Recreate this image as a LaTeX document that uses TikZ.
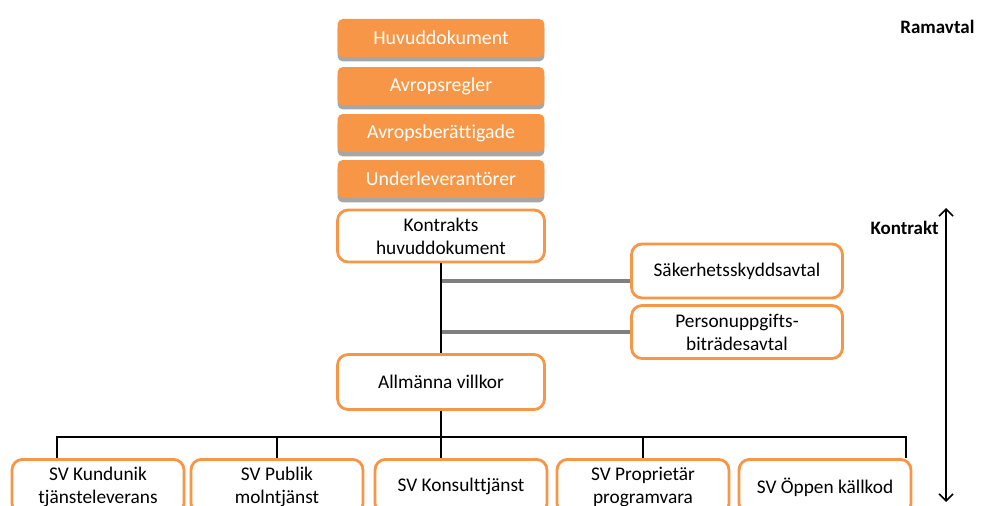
\documentclass[tikz,border=0pt]{standalone}
\usepackage{fontspec}
\setmainfont{Carlito}[Ligatures=NoCommon]
\usetikzlibrary{arrows.meta,shadows}
\definecolor{boxorange}{HTML}{F79646}
\definecolor{linegray}{HTML}{7F7F7F}
\begin{document}
\begin{tikzpicture}[x=0.02cm,y=-0.02cm]
	% Styles
	\tikzset{
		ramavtalbox/.style={fill=boxorange, rounded corners=3pt, text=white, minimum width=4.14cm, minimum height=0.76cm, inner sep=0pt, font=\fontsize{11.3}{13}\selectfont, drop shadow={shadow xshift=0pt, shadow yshift=-2.5pt, fill=black!35, opacity=1}},
		kontraktbox/.style={draw=boxorange, line width=1.6pt, fill=white, rounded corners=6pt, align=center, inner sep=0pt, font=\fontsize{11}{13}\selectfont},
		bilagabox/.style={kontraktbox, anchor=north, minimum width=3.44cm, minimum height=1.1cm},
		treeline/.style={black, line width=1pt},
		sideline/.style={linegray, line width=2pt}
	}
	\useasboundingbox (0,0) rectangle (982,506);
	\clip (0,0) rectangle (982,506);

	% Ramavtal parts
	\node [ramavtalbox] (huvud) at (441,38) {Huvuddokument};
	\node [ramavtalbox] (regler) at (441,86) {Avropsregler};
	\node [ramavtalbox] (beratt) at (441,133) {Avropsberättigade};
	\node [ramavtalbox] (underlev) at (441,179) {Underleverantörer};

	% Kontrakt parts
	\node [kontraktbox, minimum width=4.14cm, minimum height=1.04cm] (kontr) at (441,236) {Kontrakts\\huvuddokument};
	\node [kontraktbox, minimum width=4.22cm, minimum height=1.08cm] (sak) at (737,271) {Säkerhetsskyddsavtal};
	\node [kontraktbox, minimum width=4.22cm, minimum height=1.06cm] (pub) at (737,332) {Personuppgifts-\\biträdesavtal};
	\node [kontraktbox, minimum width=4.14cm, minimum height=1.1cm] (allm) at (441,382) {Allmänna villkor};

	\node [bilagabox] (k1) at (98,458) {SV Kundunik\\tjänsteleverans};
	\node [bilagabox] (k2) at (277,458) {SV Publik\\molntjänst};
	\node [bilagabox] (k3) at (461,458) {SV Konsulttjänst};
	\node [bilagabox] (k4) at (643,458) {SV Proprietär\\programvara};
	\node [bilagabox] (k5) at (825,458) {SV Öppen källkod};

	% Connectors
	\draw [sideline] ([yshift=-0.2cm]sak.west) -- ([yshift=-0.2cm]sak.west -| kontr.south);
	\draw [sideline] (pub.west) -- (pub.west -| kontr.south);
	\draw [treeline] (kontr.south) -- (allm.north);
	\coordinate (bus) at ([yshift=-0.52cm]allm.south);
	\draw [treeline] (allm.south) -- (bus);
	\draw [treeline] (bus) -| ([xshift=-0.82cm]k1.north);
	\draw [treeline] (bus) -| (k2.north);
	\draw [treeline] (bus) -| ([xshift=-0.4cm]k3.north);
	\draw [treeline] (bus) -| (k4.north);
	\draw [treeline] (bus) -| ([xshift=1.62cm]k5.north);

	% Labels on the right
	\node [anchor=west, inner sep=0pt, font=\bfseries\fontsize{10.8}{12}\selectfont] (ramlbl) at (900,27) {Ramavtal};
	\node [anchor=east, inner sep=0pt, font=\bfseries\fontsize{10.8}{12}\selectfont] (kontrlbl) at (939,228) {Kontrakt};
	\coordinate (ktop) at (946,208);
	\coordinate (kbot) at (946,502);
	\draw [line width=0.9pt, {Straight Barb[length=4pt,width=8pt]}-{Straight Barb[length=4pt,width=8pt]}] (ktop) -- (kbot);
\end{tikzpicture}
\end{document}
